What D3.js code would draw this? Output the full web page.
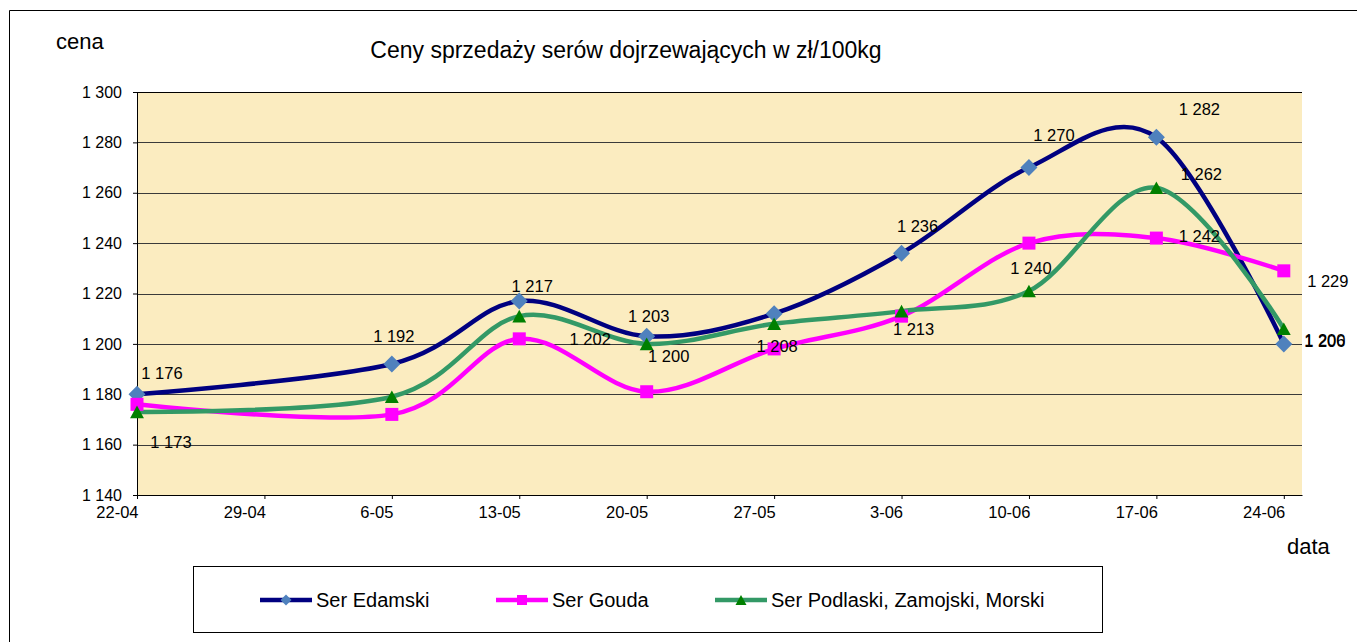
<!DOCTYPE html>
<html>
<head>
<meta charset="utf-8">
<script src="https://cdn.jsdelivr.net/npm/d3@7"></script>
<style>
  body { margin: 0; background: #fff; }
  text { font-family: "Liberation Sans", Arial, sans-serif; fill: #000; }
</style>
</head>
<body>
<svg id="chart" width="1357" height="642"></svg>
<script>
// data (dates are dd-mm)
var dates = ["22-04", "6-05", "13-05", "20-05", "27-05", "3-06", "10-06", "17-06", "24-06"];
var edamski = [1180, 1192, 1217, 1203, 1212, 1236, 1270, 1282, 1200];
var gouda = [1176, 1172, 1202, 1181, 1198, 1211, 1240, 1242, 1229];
var podlaski = [1173, 1179, 1211, 1200, 1208, 1213, 1221, 1262, 1206];

var xTickLabels = ["22-04", "29-04", "6-05", "13-05", "20-05", "27-05", "3-06", "10-06", "17-06", "24-06"];
var yTicks = [1140, 1160, 1180, 1200, 1220, 1240, 1260, 1280, 1300];

// where the data labels sit relative to their point (null = no label shown)
var edamskiLabelPos = [null, [2, -28], [13, -15], [2, -20], null, [16, -27], [25, -33], [43, -28], [41, -4]];
var goudaLabelPos = [[25, -31], null, [71, 0], null, null, null, [2, 25], [43, -2], [44, 10]];
var podlaskiLabelPos = [[34, 30], null, null, [22, 12], [3, 22], [12, 18], null, [45, -14], [41, 12]];

var series = [
  {name: "Ser Edamski", values: edamski, labels: edamskiLabelPos, line: "#000080", marker: "#4F81BD", shape: "diamond"},
  {name: "Ser Gouda", values: gouda, labels: goudaLabelPos, line: "#FF00FF", marker: "#FF00FF", shape: "square"},
  {name: "Ser Podlaski, Zamojski, Morski", values: podlaski, labels: podlaskiLabelPos, line: "#339966", marker: "#008000", shape: "triangle"}
];

var parse = d3.utcParse("%d-%m-%Y");
function toDate(s) { return parse(s + "-2010"); }

var margin = {top: 92, left: 137},
    width = 1302 - 137,
    height = 495 - 92;

var svg = d3.select("#chart");

// outer chart frame (runs off the right/bottom of the picture)
svg.append("path")
  .attr("d", "M9.5,642 L9.5,10.5 L1357,10.5")
  .attr("fill", "none")
  .attr("stroke", "#000")
  .attr("stroke-width", 1);

var x = d3.scaleUtc()
  .domain([toDate("22-04"), toDate("25-06")])
  .range([0, width]);

var y = d3.scaleLinear()
  .domain([1140, 1300])
  .range([height, 0]);

var g = svg.append("g")
  .attr("transform", `translate(${margin.left},${margin.top})`);

// plot area
g.append("rect")
  .attr("width", width)
  .attr("height", height)
  .attr("fill", "#FBECC0");

// gridlines
g.selectAll(".grid")
  .data(yTicks.slice(1))
  .join("line")
  .attr("x1", 0)
  .attr("x2", width)
  .attr("y1", d => Math.round(y(d)) + 0.5)
  .attr("y2", d => Math.round(y(d)) + 0.5)
  .attr("stroke", d => d == 1300 ? "#000" : "#3a3a3a")
  .attr("stroke-width", 1);

// y axis
var yAxis = g.append("g")
  .call(d3.axisLeft(y).tickValues(yTicks).tickSize(4).tickPadding(11)
    .tickFormat(d => d3.format(",")(d).replace(",", " ")));
yAxis.select(".domain").attr("stroke", "#000");
yAxis.selectAll("text").style("font-size", "16px").style("font-family", "Liberation Sans, Arial, sans-serif");

// x axis: labels sit to the left of their tick
var xAxis = g.append("g")
  .attr("transform", `translate(0,${height})`)
  .call(d3.axisBottom(x).tickValues(xTickLabels.map(toDate)).tickSize(4).tickSizeOuter(0)
    .tickFormat(d3.utcFormat("%-d-%m")));
xAxis.selectAll("text")
  .attr("text-anchor", "end")
  .attr("x", 1)
  .attr("y", 11)
  .style("font-size", "16.5px")
  .style("font-family", "Liberation Sans, Arial, sans-serif");

// lines
var line = d3.line()
  .x(d => x(toDate(d.date)))
  .y(d => y(d.value))
  .curve(d3.curveCardinal.tension(0));

series.forEach(function (s) {
  var pts = dates.map((d, i) => ({date: d, value: s.values[i]}));
  g.append("path")
    .datum(pts)
    .attr("d", line)
    .attr("fill", "none")
    .attr("stroke", s.line)
    .attr("stroke-width", 4.5)
    .attr("stroke-linejoin", "round");
});

function markerPath(shape, r) {
  if (shape == "diamond") return `M0,${-r} L${r},0 L0,${r} L${-r},0Z`;
  if (shape == "square") return `M${-r},${-r}H${r}V${r}H${-r}Z`;
  return `M0,${-r}L${r * 1.1},${r}L${-r * 1.1},${r}Z`;
}
var markerSize = {diamond: 8.5, square: 6.5, triangle: 6.3};

series.forEach(function (s) {
  g.selectAll(null)
    .data(dates.map((d, i) => ({date: d, value: s.values[i]})))
    .join("path")
    .attr("d", markerPath(s.shape, markerSize[s.shape]))
    .attr("transform", d => `translate(${x(toDate(d.date))},${y(d.value)})`)
    .attr("fill", s.marker);
});

// data labels
series.forEach(function (s) {
  var lab = dates.map((d, i) => ({date: d, value: s.values[i], pos: s.labels[i]}))
    .filter(d => d.pos);
  g.selectAll(null)
    .data(lab)
    .join("text")
    .attr("x", d => x(toDate(d.date)) + d.pos[0])
    .attr("y", d => y(d.value) + d.pos[1])
    .attr("dy", "0.36em")
    .attr("text-anchor", "middle")
    .style("font-size", "16.5px")
    .text(d => d3.format(",")(d.value).replace(",", " "));
});

// titles
svg.append("text")
  .attr("x", 626)
  .attr("y", 58)
  .attr("text-anchor", "middle")
  .style("font-size", "23px")
  .text("Ceny sprzedaży serów dojrzewających w zł/100kg");

svg.append("text")
  .attr("x", 56)
  .attr("y", 49)
  .style("font-size", "22px")
  .text("cena");

svg.append("text")
  .attr("x", 1287)
  .attr("y", 554)
  .style("font-size", "22px")
  .text("data");

// legend
var legend = svg.append("g");
legend.append("rect")
  .attr("x", 193.5)
  .attr("y", 566.5)
  .attr("width", 909)
  .attr("height", 66)
  .attr("fill", "#fff")
  .attr("stroke", "#000");

var legendX = [260, 496, 715];
series.forEach(function (s, i) {
  var lg = legend.append("g").attr("transform", `translate(${legendX[i]},600)`);
  lg.append("line")
    .attr("x1", 0).attr("x2", 52)
    .attr("stroke", s.line)
    .attr("stroke-width", 4.5);
  lg.append("path")
    .attr("d", markerPath(s.shape, s.shape == "diamond" ? 5.5 : 5))
    .attr("transform", "translate(26,0)")
    .attr("fill", s.marker);
  lg.append("text")
    .attr("x", 56)
    .attr("y", 7)
    .style("font-size", "20px")
    .text(s.name);
});
</script>
</body>
</html>
